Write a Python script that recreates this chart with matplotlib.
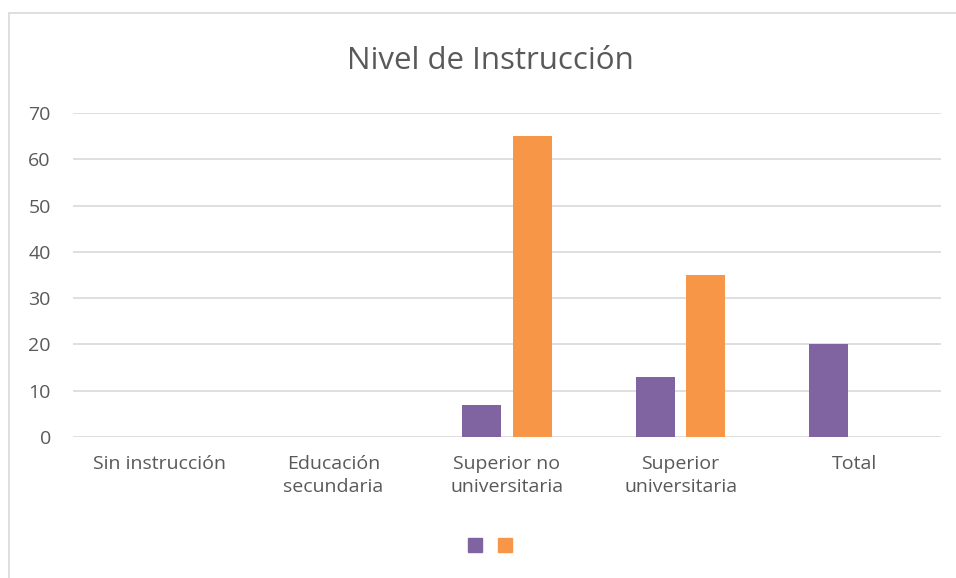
import matplotlib
matplotlib.use("Agg")
import matplotlib.pyplot as plt
from matplotlib.lines import Line2D
from matplotlib.patches import Rectangle
import numpy as np

categories = ["Sin instrucción", "Educación\nsecundaria", "Superior no\nuniversitaria",
              "Superior\nuniversitaria", "Total"]
series_purple = [0, 0, 7, 13, 20]
series_orange = [0, 0, 65, 35, 0]
yticks = [0, 10, 20, 30, 40, 50, 60, 70]
title = "Nivel de Instrucción"

PURPLE = "#8064A2"
ORANGE = "#F79646"
TEXT = "#595959"
GRID = "#D9D9D9"

plt.rcParams['font.family'] = ['Open Sans', 'DejaVu Sans']

W, H = 956, 578
fig = plt.figure(figsize=(W / 100, H / 100), dpi=100)

# chart border (open on right/bottom like the cropped reference)
fig.add_artist(Rectangle((9 / W, -0.1), 1.2, 1 - 13 / H + 0.1, transform=fig.transFigure,
                         fill=False, edgecolor="#D9D9D9", linewidth=1.2))

ax = fig.add_axes([73 / W, 1 - 437 / H, 868 / W, 324 / H])
x = np.arange(len(categories))
bw = 0.225
off = 0.146
ax.bar(x - off, series_purple, bw, color=PURPLE, zorder=3)
ax.bar(x + off, series_orange, bw, color=ORANGE, zorder=3)

ax.set_xlim(-0.5, len(categories) - 0.5)
ax.set_ylim(0, 70)
ax.set_yticks(yticks)
ax.set_xticks(x)
ax.set_xticklabels(categories, fontsize=14, color=TEXT, linespacing=1.35)
ax.tick_params(axis='y', labelsize=14, labelcolor=TEXT, length=0, pad=16)
ax.tick_params(axis='x', length=0, pad=13)
for s in ax.spines.values():
    s.set_visible(False)
ax.grid(axis='y', color=GRID, linewidth=1.2, zorder=0)
ax.set_axisbelow(True)

fig.text(490 / W, 1 - 61 / H, title, ha='center', va='center', fontsize=22.5, color=TEXT)

handles = [Line2D([], [], marker='s', linestyle='none', markersize=10, color=PURPLE),
           Line2D([], [], marker='s', linestyle='none', markersize=10, color=ORANGE)]
fig.legend(handles, ["", ""], loc='center', bbox_to_anchor=(490 / W, 1 - 546 / H),
           ncol=2, frameon=False, handlelength=1, handletextpad=0.0, columnspacing=1.2,
           fontsize=10)

fig.savefig("out.png", dpi=100)
